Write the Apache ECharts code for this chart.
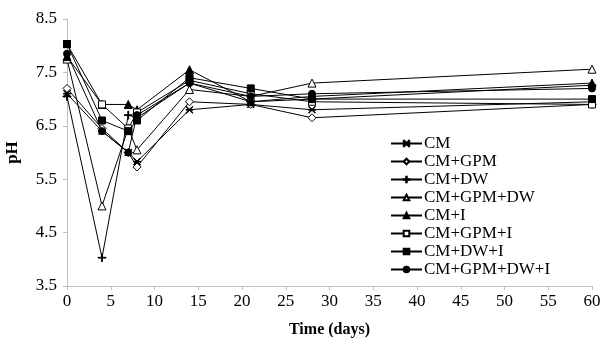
<!DOCTYPE html>
<html>
<head>
<meta charset="utf-8">
<script src="https://cdn.jsdelivr.net/npm/echarts@6/dist/echarts.min.js"></script>
<style>
  html, body { margin: 0; padding: 0; background: #fff; }
  #chart { width: 605px; height: 347px; }
</style>
</head>
<body>
<div id="chart"></div>
<script>
const days = [0, 4, 7, 8, 14, 21, 28, 60];
const seriesNames = ['CM', 'CM+GPM', 'CM+DW', 'CM+GPM+DW', 'CM+I', 'CM+GPM+I', 'CM+DW+I', 'CM+GPM+DW+I'];

const cm        = [7.10, 6.40, 6.00, 5.83, 6.80, 6.90, 6.80, 6.95];
const cmGpm     = [7.20, 6.45, 6.00, 5.73, 6.95, 6.90, 6.65, 6.90];
const cmDw      = [7.05, 4.03, 6.70, 6.65, 7.30, 6.95, 7.00, 7.26];
const cmGpmDw   = [7.75, 5.00, 6.45, 6.05, 7.18, 7.05, 7.30, 7.56];
const cmI       = [7.80, 6.90, 6.90, 6.80, 7.55, 6.95, 7.05, 7.30];
const cmGpmI    = [8.03, 6.90, 6.45, 6.75, 7.35, 7.10, 6.95, 6.90];
const cmDwI     = [8.03, 6.60, 6.40, 6.60, 7.40, 7.20, 7.00, 7.00];
const cmGpmDwI  = [7.85, 6.40, 6.00, 6.70, 7.30, 7.05, 7.10, 7.20];

const values = [cm, cmGpm, cmDw, cmGpmDw, cmI, cmGpmI, cmDwI, cmGpmDwI];

const yTicksMin = 3.5;
const yTicksMax = 8.5;

// marker shapes: asterisk, open diamond, plus, open triangle, filled triangle, open square, filled square, filled circle
const asterisk = 'path://M0,0.7L0.7,0L10,9.3L9.3,10Z M9.3,0L10,0.7L0.7,10L0,9.3Z M0,4.5H10V5.5H0Z';
const plus = 'path://M4.5,0H5.5V10H4.5Z M0,4.5H10V5.5H0Z';
const markers = [
  { symbol: asterisk, size: 7, fill: '#000' },
  { symbol: 'diamond', size: 8, fill: '#fff' },
  { symbol: plus, size: 8, fill: '#000' },
  { symbol: 'triangle', size: 8, fill: '#fff' },
  { symbol: 'triangle', size: 8, fill: '#000' },
  { symbol: 'rect', size: 7, fill: '#fff' },
  { symbol: 'rect', size: 7, fill: '#000' },
  { symbol: 'circle', size: 7, fill: '#000' }
];

const font = 'Liberation Serif, Times New Roman, serif';
const axisGray = '#bfbfbf';

const chart = echarts.init(document.getElementById('chart'));

const series = seriesNames.map((name, i) => ({
  name,
  type: 'line',
  data: days.map((d, k) => [d, values[i][k]]),
  symbol: markers[i].symbol,
  symbolSize: markers[i].size,
  showAllSymbol: true,
  lineStyle: { color: '#000', width: 1 },
  itemStyle: { color: markers[i].fill, borderColor: '#000', borderWidth: 1 },
  animation: false,
  z: 2 + i
}));

chart.setOption({
  backgroundColor: '#fff',
  grid: { left: 67, right: 13, top: 19, bottom: 61, containLabel: false, outerBoundsMode: 'none' },
  legend: {
    orient: 'vertical',
    left: 385,
    top: 130,
    itemGap: 1,
    itemWidth: 31,
    itemHeight: 7,
    textStyle: { fontFamily: font, fontSize: 17, color: '#000', padding: [0, 0, 0, -3] },
    data: seriesNames
  },
  xAxis: {
    type: 'value',
    min: 0,
    max: 60,
    interval: 5,
    name: 'Time (days)',
    nameLocation: 'middle',
    nameGap: 36,
    nameTextStyle: { fontFamily: font, fontSize: 16, fontWeight: 'bold', color: '#000' },
    axisLine: { lineStyle: { color: axisGray } },
    axisTick: { show: true, length: 4, lineStyle: { color: axisGray } },
    axisLabel: { fontFamily: font, fontSize: 17, color: '#000', margin: 7 },
    splitLine: { show: false }
  },
  yAxis: {
    type: 'value',
    min: yTicksMin,
    max: yTicksMax,
    interval: 1,
    name: 'pH',
    nameLocation: 'middle',
    nameRotate: 90,
    nameGap: 46,
    nameTextStyle: { fontFamily: font, fontSize: 17, fontWeight: 'bold', color: '#000' },
    axisLine: { show: true, lineStyle: { color: axisGray } },
    axisTick: { show: true, length: 4, lineStyle: { color: axisGray } },
    axisLabel: { fontFamily: font, fontSize: 17, color: '#000', margin: 10, formatter: v => v.toFixed(1) },
    splitLine: { show: false }
  },
  series
});
</script>
</body>
</html>
